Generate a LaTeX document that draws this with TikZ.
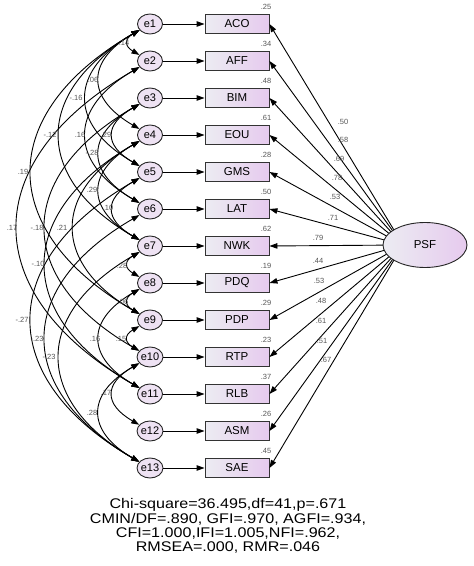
\documentclass[tikz,border=0pt]{standalone}
\usepackage{fontspec}
\setmainfont{Liberation Sans}
\usetikzlibrary{shapes.geometric, arrows.meta}

\definecolor{boxleft}{RGB}{236,236,242}
\definecolor{boxright}{RGB}{230,202,238}
\definecolor{errfill}{RGB}{238,226,243}
\definecolor{lblgray}{RGB}{85,85,85}

\tikzset{
  errvar/.style={ellipse, draw=black!85, fill=errfill, minimum width=25pt, minimum height=20pt, inner sep=0pt, font=\fontsize{11}{11}\selectfont},
  obsvar/.style={rectangle, draw=black!80, left color=boxleft, right color=boxright, minimum width=64pt, minimum height=19pt, inner sep=0pt, font=\fontsize{11.5}{12}\selectfont},
  latvar/.style={ellipse, draw=black!85, left color=boxleft, right color=boxright, minimum width=84pt, minimum height=45pt, inner sep=0pt, font=\fontsize{11.5}{12}\selectfont},
  est/.style={font=\fontsize{7.5}{8}\selectfont, text=lblgray, inner sep=0pt},
  cov/.style={<->, out=210, in=150, looseness=1.5}
}

\begin{document}
\begin{tikzpicture}[x=1pt, y=1pt, >={Triangle[length=8pt,width=5.5pt]}, line width=0.9pt]
  \useasboundingbox (0,0) rectangle (474,566);

  % 1. error terms
  \node[errvar] (e1) at (150,542) {e1};
  \node[errvar] (e2) at (150,505) {e2};
  \node[errvar] (e3) at (150,468) {e3};
  \node[errvar] (e4) at (150,431) {e4};
  \node[errvar] (e5) at (150,394) {e5};
  \node[errvar] (e6) at (150,357) {e6};
  \node[errvar] (e7) at (150,320) {e7};
  \node[errvar] (e8) at (150,283) {e8};
  \node[errvar] (e9) at (150,246) {e9};
  \node[errvar] (e10) at (150,209) {e10};
  \node[errvar] (e11) at (150,172) {e11};
  \node[errvar] (e12) at (150,135) {e12};
  \node[errvar] (e13) at (150,98) {e13};

  % 2. observed indicators
  \node[obsvar] (aco) at (237,542) {ACO};
  \node[obsvar] (aff) at (237,505) {AFF};
  \node[obsvar] (bim) at (237,468) {BIM};
  \node[obsvar] (eou) at (237,431) {EOU};
  \node[obsvar] (gms) at (237,394) {GMS};
  \node[obsvar] (lat) at (237,357) {LAT};
  \node[obsvar] (nwk) at (237,320) {NWK};
  \node[obsvar] (pdq) at (237,283) {PDQ};
  \node[obsvar] (pdp) at (237,246) {PDP};
  \node[obsvar] (rtp) at (237,209) {RTP};
  \node[obsvar] (rlb) at (237,172) {RLB};
  \node[obsvar] (asm) at (237,135) {ASM};
  \node[obsvar] (sae) at (237,98) {SAE};

  % 3. error -> indicator
  \draw[->] (e1) -- (aco);
  \draw[->] (e2) -- (aff);
  \draw[->] (e3) -- (bim);
  \draw[->] (e4) -- (eou);
  \draw[->] (e5) -- (gms);
  \draw[->] (e6) -- (lat);
  \draw[->] (e7) -- (nwk);
  \draw[->] (e8) -- (pdq);
  \draw[->] (e9) -- (pdp);
  \draw[->] (e10) -- (rtp);
  \draw[->] (e11) -- (rlb);
  \draw[->] (e12) -- (asm);
  \draw[->] (e13) -- (sae);

  % 4. loadings: lines leave a point inside PSF, the ellipse is painted over them
  \coordinate (hub) at (403,321);
  \draw[->] (hub) -- (aco.east);
  \draw[->] (hub) -- (aff.east);
  \draw[->] (hub) -- (bim.east);
  \draw[->] (hub) -- (eou.east);
  \draw[->] (hub) -- (gms.east);
  \draw[->] (hub) -- (lat.east);
  \draw[->] (hub) -- (nwk.east);
  \draw[->] (hub) -- (pdq.east);
  \draw[->] (hub) -- (pdp.east);
  \draw[->] (hub) -- (rtp.east);
  \draw[->] (hub) -- (rlb.east);
  \draw[->] (hub) -- (asm.east);
  \draw[->] (hub) -- (sae.east);
  \node[latvar] (psf) at (425,321) {PSF};

  % squared multiple correlations
  \node[est] (r1) at (266,559) {.25};
  \node[est] (r2) at (266,522) {.34};
  \node[est] (r3) at (266,485) {.48};
  \node[est] (r4) at (266,448) {.61};
  \node[est] (r5) at (266,411) {.28};
  \node[est] (r6) at (266,374) {.50};
  \node[est] (r7) at (266,337) {.62};
  \node[est] (r8) at (266,300) {.19};
  \node[est] (r9) at (266,263) {.29};
  \node[est] (r10) at (266,226) {.23};
  \node[est] (r11) at (266,189) {.37};
  \node[est] (r12) at (266,152) {.26};
  \node[est] (r13) at (266,115) {.45};

  % standardized loadings
  \node[est] (w1) at (343,444) {.50};
  \node[est] (w2) at (343,426) {.58};
  \node[est] (w3) at (339,407) {.69};
  \node[est] (w4) at (337,388) {.78};
  \node[est] (w5) at (335,369) {.53};
  \node[est] (w6) at (333,348) {.71};
  \node[est] (w7) at (318,328) {.79};
  \node[est] (w8) at (318,305) {.44};
  \node[est] (w9) at (319,285) {.53};
  \node[est] (w10) at (321,265) {.48};
  \node[est] (w11) at (321,245) {.61};
  \node[est] (w12) at (322,225) {.51};
  \node[est] (w13) at (326,206) {.67};

  % 5. error covariances
  \draw[cov, looseness=1.8] (e1) to (e2);
  \draw[cov, looseness=1.6] (e1) to (e4);
  \draw[cov, looseness=1.55] (e1) to (e5);
  \draw[cov] (e1) to (e7);
  \draw[cov, looseness=1.55] (e2) to (e6);
  \draw[cov, looseness=1.7] (e3) to (e5);
  \draw[cov, looseness=1.6] (e3) to (e6);
  \draw[cov] (e1) to (e9);
  \draw[cov, looseness=1.6] (e4) to (e7);
  \draw[cov, looseness=1.7] (e5) to (e7);
  \draw[cov] (e2) to (e11);
  \draw[cov] (e3) to (e10);
  \draw[cov] (e4) to (e9);
  \draw[cov] (e4) to (e11);
  \draw[cov, looseness=1.8] (e7) to (e8);
  \draw[cov, looseness=1.8] (e8) to (e9);
  \draw[cov] (e5) to (e13);
  \draw[cov] (e6) to (e13);
  \draw[cov, looseness=1.6] (e8) to (e11);
  \draw[cov, looseness=1.8] (e9) to (e10);
  \draw[cov] (e7) to (e13);
  \draw[cov, looseness=1.7] (e10) to (e12);
  \draw[cov, looseness=1.6] (e10) to (e13);

  \node[est] (c1) at (124,523) {.14};
  \node[est] (c2) at (93,486) {.06};
  \node[est] (c3) at (76,468) {-.16};
  \node[est] (c4) at (50,431) {-.12};
  \node[est] (c5) at (80,431) {.16};
  \node[est] (c6) at (106,431) {.29};
  \node[est] (c7) at (92,413) {-.28};
  \node[est] (c8) at (23,394) {.19};
  \node[est] (c9) at (92,376) {.29};
  \node[est] (c10) at (108,358) {.10};
  \node[est] (c11) at (12,338) {.17};
  \node[est] (c12) at (37,338) {-.18};
  \node[est] (c13) at (62,338) {.21};
  \node[est] (c14) at (38,302) {-.10};
  \node[est] (c15) at (122,300) {.28};
  \node[est] (c16) at (123,264) {.06};
  \node[est] (c17) at (22,246) {-.27};
  \node[est] (c18) at (37,227) {-.23};
  \node[est] (c19) at (95,227) {.16};
  \node[est] (c20) at (121,227) {.15};
  \node[est] (c21) at (49,209) {-.23};
  \node[est] (c22) at (106,173) {.17};
  \node[est] (c23) at (92,153) {.28};

  % 6. fit indices
  \node[xscale=1.15, align=center, font=\fontsize{14}{14.3}\selectfont] (fit) at (228,40)
    {Chi-square=36.495,df=41,p=.671\\CMIN/DF=.890, GFI=.970, AGFI=.934,\\CFI=1.000,IFI=1.005,NFI=.962,\\RMSEA=.000, RMR=.046};
\end{tikzpicture}
\end{document}
